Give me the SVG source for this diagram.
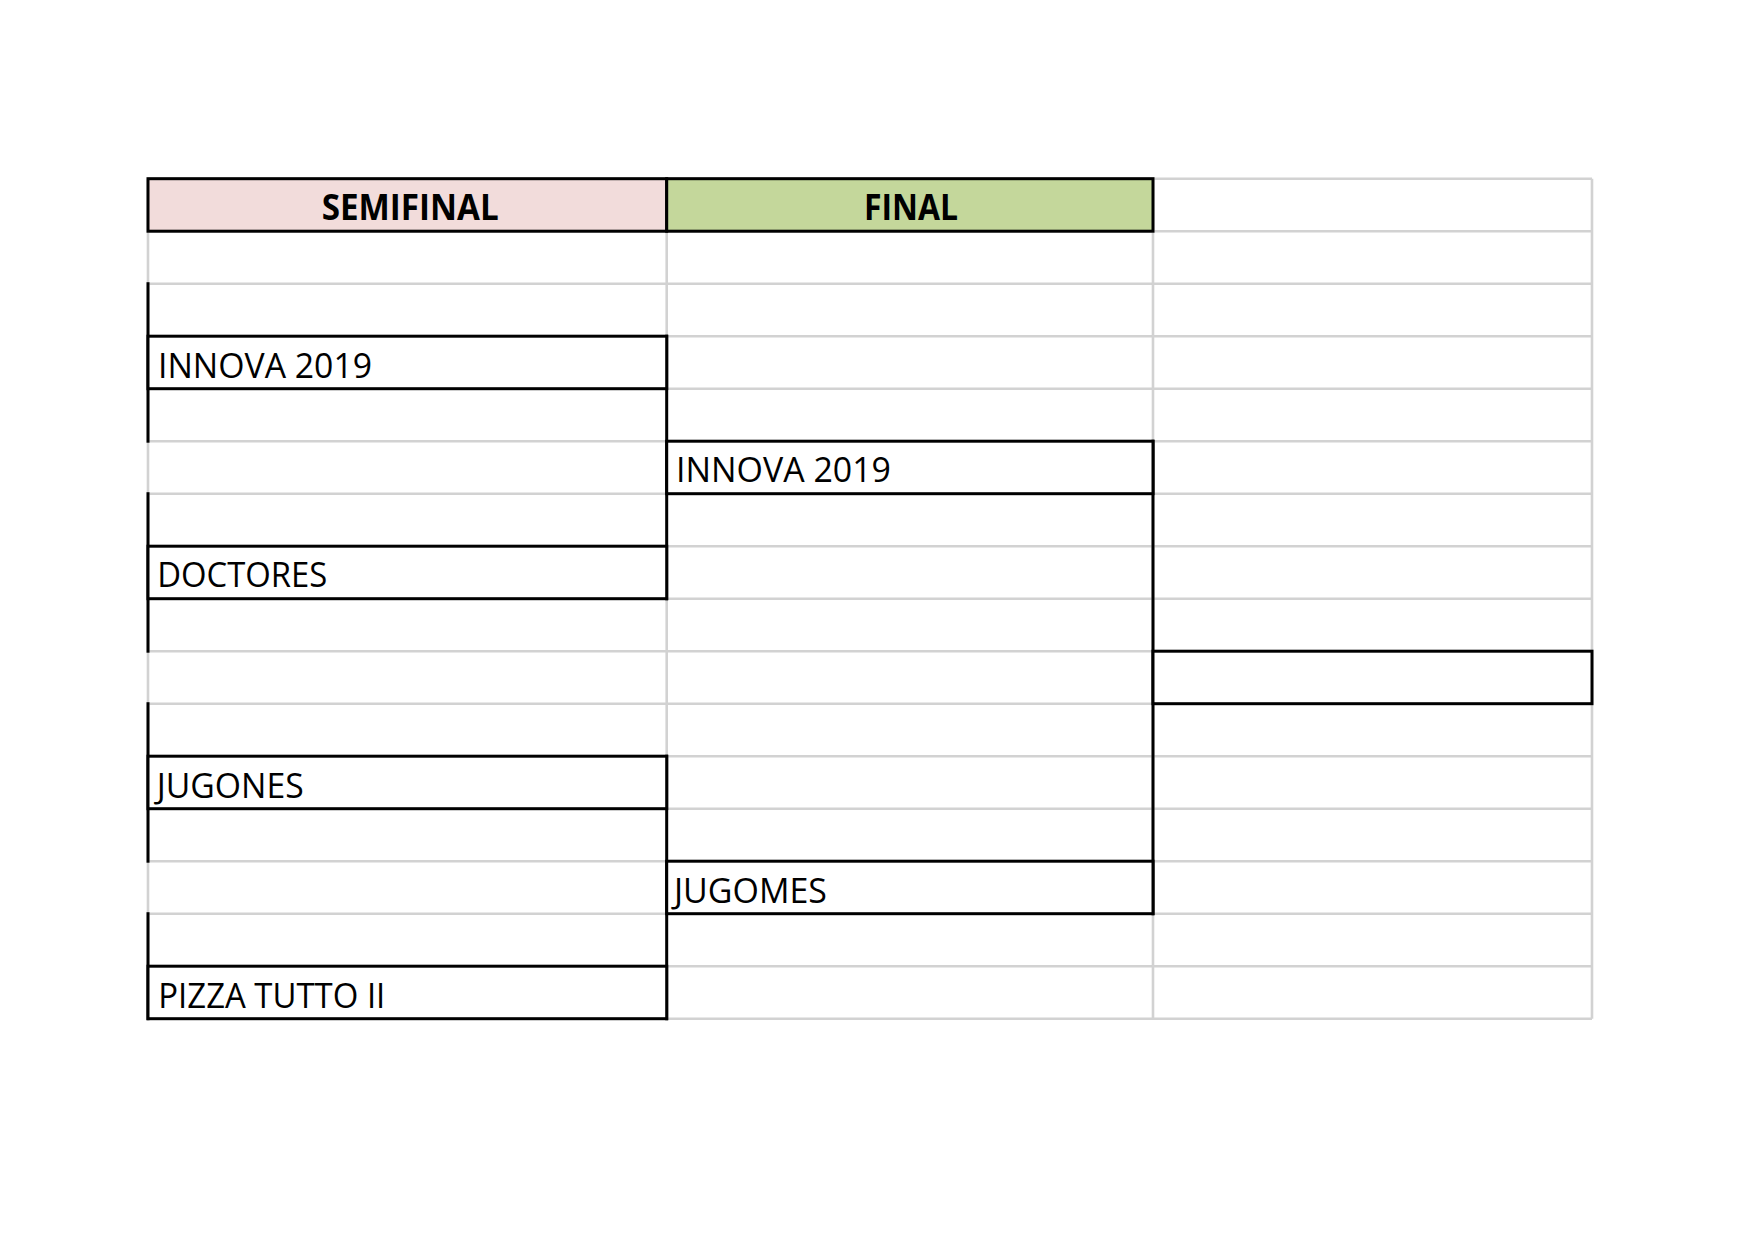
<svg xmlns="http://www.w3.org/2000/svg" width="1755" height="1240" viewBox="0 0 1755 1240">
<style>
.grid line{stroke:#D2D2D2;stroke-width:2.6}
.blk{stroke:#000;stroke-width:3;fill:none;stroke-linecap:square}
.box{stroke:#000;stroke-width:3;fill:#fff}
.t{font-family:"Open Sans","Noto Sans","Liberation Sans",sans-serif;font-size:35px;fill:#000}
.h{font-family:"Open Sans","Noto Sans","Liberation Sans",sans-serif;font-size:35px;font-weight:700;fill:#000}
</style>
<rect width="1755" height="1240" fill="#fff"/>
<g id="grid" class="grid">
<line x1="148" y1="178.7" x2="1592" y2="178.7"/>
<line x1="148" y1="231.2" x2="1592" y2="231.2"/>
<line x1="148" y1="283.7" x2="1592" y2="283.7"/>
<line x1="148" y1="336.2" x2="1592" y2="336.2"/>
<line x1="148" y1="388.7" x2="1592" y2="388.7"/>
<line x1="148" y1="441.2" x2="1592" y2="441.2"/>
<line x1="148" y1="493.7" x2="1592" y2="493.7"/>
<line x1="148" y1="546.2" x2="1592" y2="546.2"/>
<line x1="148" y1="598.7" x2="1592" y2="598.7"/>
<line x1="148" y1="651.2" x2="1592" y2="651.2"/>
<line x1="148" y1="703.7" x2="1592" y2="703.7"/>
<line x1="148" y1="756.2" x2="1592" y2="756.2"/>
<line x1="148" y1="808.7" x2="1592" y2="808.7"/>
<line x1="148" y1="861.2" x2="1592" y2="861.2"/>
<line x1="148" y1="913.7" x2="1592" y2="913.7"/>
<line x1="148" y1="966.2" x2="1592" y2="966.2"/>
<line x1="148" y1="1018.7" x2="1592" y2="1018.7"/>
<line x1="148" y1="178.7" x2="148" y2="1018.7"/>
<line x1="666.7" y1="178.7" x2="666.7" y2="1018.7"/>
<line x1="1153" y1="178.7" x2="1153" y2="1018.7"/>
<line x1="1592" y1="178.7" x2="1592" y2="1018.7"/>
</g>
<g id="header-semifinal">
<rect class="box" x="148" y="178.7" width="518.7" height="52.5" style="fill:#F2DCDB"/>
<text class="h" x="321.7" y="220" textLength="177" lengthAdjust="spacingAndGlyphs">SEMIFINAL</text>
</g>
<g id="header-final">
<rect class="box" x="666.7" y="178.7" width="486.3" height="52.5" style="fill:#C4D79B"/>
<text class="h" x="864" y="220" textLength="94" lengthAdjust="spacingAndGlyphs">FINAL</text>
</g>
<g id="connectors">
<line class="blk" x1="148" y1="283.7" x2="148" y2="441.2"/>
<line class="blk" x1="148" y1="493.7" x2="148" y2="651.2"/>
<line class="blk" x1="148" y1="703.7" x2="148" y2="861.2"/>
<line class="blk" x1="148" y1="913.7" x2="148" y2="1018.7"/>
<line class="blk" x1="666.7" y1="336.2" x2="666.7" y2="598.7"/>
<line class="blk" x1="666.7" y1="756.2" x2="666.7" y2="1018.7"/>
<line class="blk" x1="1153" y1="441.2" x2="1153" y2="913.7"/>
</g>
<g id="semi-innova">
<rect class="box" x="148" y="336.2" width="518.7" height="52.5"/>
<text class="t" x="158" y="377.8" textLength="214" lengthAdjust="spacingAndGlyphs">INNOVA 2019</text>
</g>
<g id="semi-doctores">
<rect class="box" x="148" y="546.2" width="518.7" height="52.5"/>
<text class="t" x="157.3" y="587.3" textLength="170" lengthAdjust="spacingAndGlyphs">DOCTORES</text>
</g>
<g id="semi-jugones">
<rect class="box" x="148" y="756.2" width="518.7" height="52.5"/>
<text class="t" x="156.7" y="798.1" textLength="147" lengthAdjust="spacingAndGlyphs">JUGONES</text>
</g>
<g id="semi-pizza">
<rect class="box" x="148" y="966.2" width="518.7" height="52.5"/>
<text class="t" x="158.3" y="1008" textLength="227" lengthAdjust="spacingAndGlyphs">PIZZA TUTTO II</text>
</g>
<g id="final-innova">
<rect class="box" x="666.7" y="441.2" width="486.3" height="52.5"/>
<text class="t" x="676" y="481.7" textLength="215" lengthAdjust="spacingAndGlyphs">INNOVA 2019</text>
</g>
<g id="final-jugomes">
<rect class="box" x="666.7" y="861.2" width="486.3" height="52.5"/>
<text class="t" x="674" y="902.8" textLength="153" lengthAdjust="spacingAndGlyphs">JUGOMES</text>
</g>
<g id="winner">
<rect class="box" x="1153" y="651.2" width="439" height="52.5"/>
</g>
</svg>
